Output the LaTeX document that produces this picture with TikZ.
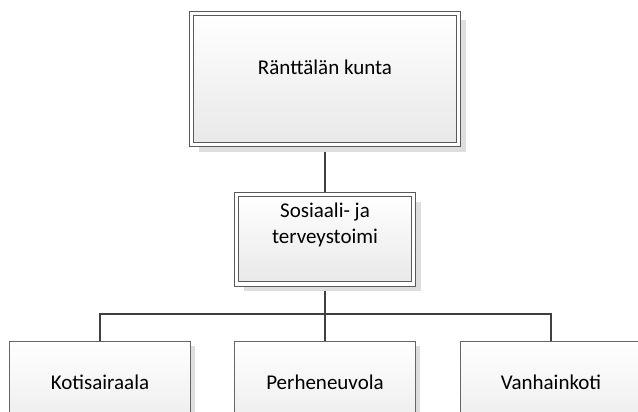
\documentclass[tikz,border=0pt]{standalone}
\usepackage{fontspec}
\setmainfont{Carlito}
\usetikzlibrary{shadows,backgrounds,positioning}

\begin{document}
\begin{tikzpicture}[x=1pt,y=-1pt,
    unit/.style={rectangle, top color=white, bottom color=black!9},
    mainunit/.style={unit, draw=black!65, line width=1pt, double=white, double distance=3.5pt,
      general shadow={fill=black!13, shadow xshift=7pt, shadow yshift=-7pt}},
    subunit/.style={unit, draw=black!60, line width=1pt,
      general shadow={fill=black!13, shadow xshift=4.5pt, shadow yshift=-4.5pt}},
    conn/.style={draw=black!75, line width=2.2pt},
    boxtext/.style={font=\fontsize{21}{26}\selectfont, align=center, inner sep=0pt}]
    \useasboundingbox (0,0) rectangle (638,412);
    \clip (0,0) rectangle (638,412);

    % johto
    \node[mainunit, minimum width=267, minimum height=131,
      label={[boxtext, yshift=12pt]center:Ränttälän kunta}] (kunta) at (325,79) {};
    \node[mainunit, minimum width=177, minimum height=89.5,
      label={[boxtext, yshift=14pt]center:Sosiaali- ja\\terveystoimi}] (sosiaali) at (325,239.25) {};

    % yksiköt
    \node[subunit, minimum width=180.5, minimum height=106,
      label={[boxtext, yshift=12pt]center:Kotisairaala}] (koti) at (100,394) {};
    \node[subunit, minimum width=180.5, minimum height=106,
      label={[boxtext, yshift=12pt]center:Perheneuvola}] (perhe) at (325,394) {};
    \node[subunit, minimum width=180.5, minimum height=106,
      label={[boxtext, yshift=12pt]center:Vanhainkoti}] (vanhain) at (551,394) {};

    \coordinate (haara) at (325,314);
    \begin{scope}[on background layer]
        \draw[conn] (kunta.south) -- (sosiaali.north);
        \draw[conn] (sosiaali.south) -- (haara);
        \draw[conn] (haara) -| (koti.north);
        \draw[conn] (haara) -- (perhe.north);
        \draw[conn] (haara) -| (vanhain.north);
    \end{scope}
\end{tikzpicture}
\end{document}
